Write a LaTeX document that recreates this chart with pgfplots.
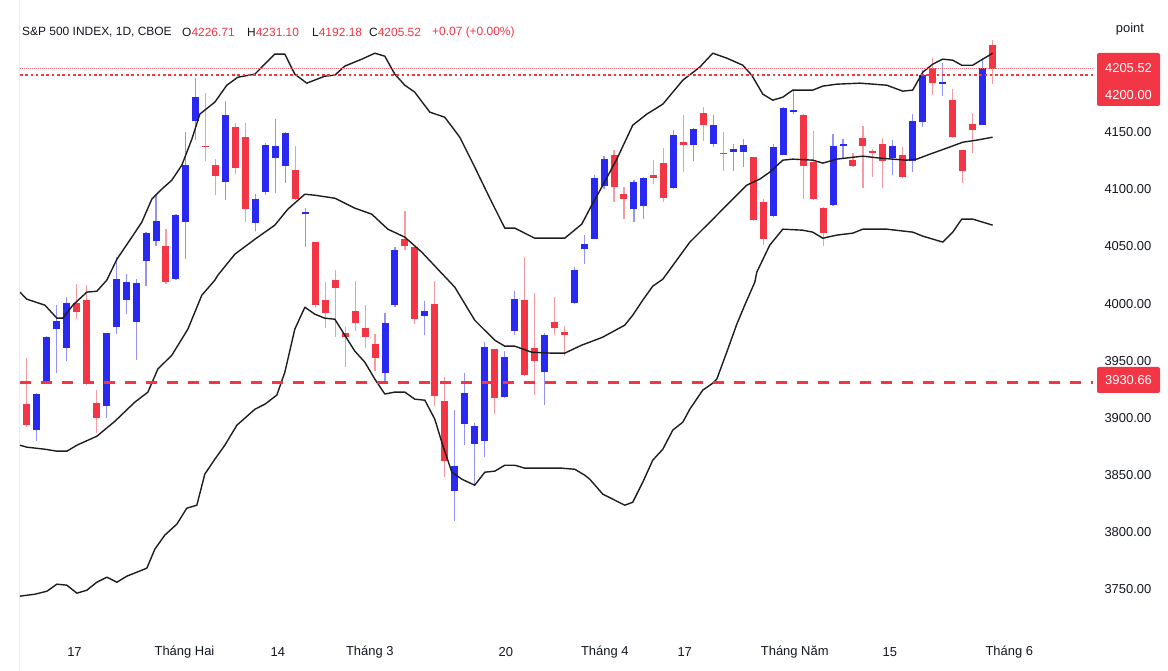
\documentclass[border=0pt]{standalone}
\usepackage{fontspec}
\setmainfont{Liberation Sans}
\usepackage{pgfplots}
\usepackage{pgfplotstable}
\pgfplotsset{compat=1.18}
\definecolor{tvred}{HTML}{F23645}
\definecolor{tvblue}{HTML}{2929F0}
\definecolor{tvtext}{HTML}{131722}
\definecolor{bandc}{HTML}{1E1E1E}

\pgfplotstableread{
i o h l c
1 3889.2 3921.6 3879.5 3920.7
2 3932.1 3971.4 3931.2 3970.8
3 3977.8 3998.8 3939.3 3984.8
4 3961.2 4005.6 3949.8 4000.6
8 3910.2 3974.5 3899.7 3974.1
9 3979.3 4040.6 3973.5 4021.3
10 4003.0 4025.7 3991.0 4018.7
11 3983.7 4021.3 3950.7 4017.8
12 4037.4 4062.3 4015.2 4061.9
13 4054.9 4095.7 4050.8 4072.4
15 4021.3 4078.5 4020.9 4077.6
16 4071.0 4150.3 4039.1 4120.9
17 4159.4 4197.3 4143.3 4181.2
20 4106.2 4177.7 4090.2 4165.1
23 4070.1 4096.3 4063.1 4091.6
24 4097.5 4140.4 4095.1 4138.6
25 4127.2 4161.6 4096.6 4137.7
26 4120.2 4149.8 4105.6 4149.4
28 4078.0 4083.5 4049.3 4080.2
36 3939.1 3991.8 3929.7 3983.1
37 3998.3 4049.1 3996.8 4046.7
40 3988.7 4002.1 3972.1 3993.9
43 3835.8 3906.4 3810.1 3857.4
44 3895.0 3939.1 3875.8 3921.8
45 3877.2 3895.6 3840.8 3892.7
46 3879.8 3966.2 3865.5 3961.8
48 3918.1 3958.6 3917.7 3953.1
49 3976.4 4010.8 3972.6 4004.1
52 3939.9 3974.1 3910.8 3972.6
55 4000.3 4031.8 4000.0 4029.0
56 4047.9 4059.6 4034.2 4051.7
57 4056.6 4112.1 4056.2 4110.3
58 4102.7 4129.0 4100.4 4126.1
61 4082.6 4108.0 4071.8 4106.8
62 4085.8 4110.7 4074.1 4110.3
65 4101.0 4151.8 4100.6 4147.6
67 4138.4 4153.3 4124.6 4152.9
69 4139.8 4164.6 4136.6 4156.4
71 4132.8 4139.8 4115.9 4135.1
72 4132.8 4144.1 4119.6 4138.6
75 4076.5 4139.8 4076.1 4136.9
76 4130.1 4171.7 4129.6 4171.3
77 4167.5 4187.4 4166.0 4169.5
81 4086.1 4148.2 4085.7 4137.7
82 4138.0 4143.9 4126.6 4139.5
87 4127.0 4143.3 4112.1 4137.7
89 4124.4 4166.0 4115.3 4159.9
90 4158.8 4204.0 4154.6 4199.6
92 4192.3 4210.1 4181.5 4194.0
96 4156.7 4215.0 4156.3 4206.3
}\up

\pgfplotstableread{
i o h l c
0 3912.2 3952.2 3891.8 3893.5
5 4000.6 4017.0 3986.3 3992.5
6 4003.2 4016.1 3928.9 3929.4
7 3913.1 3924.4 3886.8 3899.7
14 4050.2 4065.4 4017.2 4018.7
18 4137.9 4183.9 4124.9 4137.0
19 4120.9 4126.1 4094.6 4111.5
21 4154.4 4158.1 4113.5 4118.5
22 4145.6 4158.1 4071.8 4082.6
27 4116.7 4137.7 4091.0 4091.4
29 4053.7 4054.1 3996.2 3998.3
30 4003.2 4018.7 3978.7 3991.8
31 4020.2 4029.8 3970.6 4013.2
32 3974.3 3979.3 3944.3 3970.8
33 3993.9 4019.3 3975.6 3983.1
34 3978.7 3998.8 3960.9 3970.6
35 3964.4 3973.5 3940.8 3952.2
38 4056.6 4080.6 4046.5 4050.0
39 4049.3 4049.7 3981.7 3986.9
41 3999.7 4019.3 3910.2 3919.2
42 3914.3 3935.6 3848.0 3862.3
47 3960.1 3960.5 3902.9 3917.2
50 4003.2 4040.6 3936.9 3937.3
51 3960.9 4009.1 3920.1 3949.8
53 3984.0 4005.3 3972.1 3978.2
54 3974.9 3980.2 3953.9 3972.1
59 4129.9 4134.0 4088.7 4101.9
60 4096.3 4101.6 4074.1 4091.4
63 4112.4 4125.5 4104.5 4109.7
64 4122.9 4136.0 4088.7 4092.8
66 4141.5 4164.6 4115.0 4138.4
68 4166.4 4171.9 4142.7 4155.9
70 4131.8 4150.0 4115.9 4130.9
73 4128.1 4128.5 4072.6 4073.0
74 4089.3 4091.1 4051.4 4056.6
78 4165.1 4165.5 4091.6 4120.5
79 4124.0 4150.6 4090.8 4091.4
80 4083.7 4084.1 4050.0 4061.9
83 4125.5 4131.9 4119.6 4120.5
84 4144.8 4155.3 4101.0 4138.0
85 4133.6 4135.4 4110.6 4132.2
86 4139.5 4144.8 4101.0 4124.9
88 4129.9 4136.9 4110.2 4110.6
91 4206.3 4215.0 4182.1 4193.2
93 4178.3 4187.4 4144.5 4146.2
94 4134.2 4134.6 4105.6 4116.1
95 4157.3 4167.2 4131.9 4152.0
97 4226.71 4231.10 4192.18 4205.52
}\down

\begin{document}
\begin{tikzpicture}[x=1bp,y=1bp]
\path[use as bounding box] (0,0) rectangle (1168,671);
\fill[white] (0,0) rectangle (1168,671);
\draw[black!8, line width=1bp] (19,0) -- (19,671);
\begin{axis}[
  at={(20,41)}, anchor=south west, scale only axis,
  width=1073bp, height=614bp,
  xmin=-0.67, xmax=107.1, ymin=3719.4, ymax=4256.8,
  axis line style={draw=none}, tick style={draw=none},
  ytick={3750,3800,3850,3900,3950,4000,4050,4100,4150},
  yticklabels={3750.00,3800.00,3850.00,3900.00,3950.00,4000.00,4050.00,4100.00,4150.00},
  yticklabel pos=right,
  xtick={4.81,15.86,25.23,34.47,48.13,58.07,66.1,77.15,86.7,98.7},
  xticklabels={17,Tháng Hai,14,Tháng 3,20,Tháng 4,17,Tháng Năm,15,Tháng 6},
  tick label style={font=\fontsize{13}{15}\selectfont, text=tvtext},
  yticklabel style={anchor=center, xshift=35bp},
  xticklabel style={anchor=center, yshift=-28bp},
]
% wicks
\addplot[draw=none, mark=none, forget plot, error bars/.cd, y dir=plus, y explicit, error mark=none,
  error bar style={line width=1.2bp, draw=tvblue!50}]
  table[x=i, y=l, y error expr=\thisrow{h}-\thisrow{l}] {\up};
\addplot[draw=none, mark=none, forget plot, error bars/.cd, y dir=plus, y explicit, error mark=none,
  error bar style={line width=1.2bp, draw=tvred!50}]
  table[x=i, y=l, y error expr=\thisrow{h}-\thisrow{l}] {\down};
% bodies
\addplot[draw=none, mark=none, forget plot, error bars/.cd, y dir=plus, y explicit, error mark=none,
  error bar style={line width=7bp, draw=tvblue}]
  table[x=i, y=o, y error expr=\thisrow{c}-\thisrow{o}] {\up};
\addplot[draw=none, mark=none, forget plot, error bars/.cd, y dir=plus, y explicit, error mark=none,
  error bar style={line width=7bp, draw=tvred}]
  table[x=i, y=c, y error expr=\thisrow{o}-\thisrow{c}] {\down};
% Bollinger upper
\addplot[bandc, line width=1.4bp, line join=round, mark=none] coordinates {
(-0.67,4010.0) (0.03,4003.8) (1.84,3998.6) (3.04,3987.2) (3.64,3987.2) (4.65,3998.6)
(6.05,4010.0) (7.06,4010.8) (8.06,4020.5) (9.07,4038.8) (10.57,4058.1) (11.57,4071.2)
(12.58,4091.4) (13.58,4100.1) (14.59,4108.0) (15.59,4121.1) (16.60,4143.9) (17.40,4165.8)
(18.91,4176.3) (20.11,4191.1) (21.22,4198.1) (22.93,4200.8) (24.93,4218.3) (25.94,4218.3)
(26.94,4200.8) (28.14,4192.9) (29.95,4199.0) (30.96,4199.9) (31.96,4207.8) (33.67,4213.9)
(34.98,4219.1) (35.98,4216.5) (36.98,4200.8) (37.99,4191.1) (38.99,4185.0) (40.50,4167.5)
(42.00,4163.1) (43.51,4145.6) (45.01,4119.4) (46.72,4088.7) (48.03,4066.0) (49.03,4066.0)
(51.04,4057.2) (54.05,4057.2) (55.76,4069.5) (56.76,4086.1) (57.77,4101.9) (59.28,4126.4)
(60.88,4156.1) (62.29,4165.8) (63.90,4174.5) (65.91,4195.5) (67.61,4206.9) (68.92,4219.1)
(70.32,4214.8) (71.93,4208.6) (72.83,4199.9) (73.94,4183.3) (74.94,4178.0) (75.95,4180.6)
(76.95,4186.8) (78.96,4186.8) (79.97,4190.3) (81.37,4192.0) (83.68,4192.9) (86.39,4191.1)
(88.00,4185.9) (89.00,4186.8) (90.01,4202.5) (91.01,4209.5) (92.01,4213.9) (93.02,4213.0)
(93.92,4208.6) (95.03,4208.6) (96.03,4213.9) (97.03,4219.1)};
% Bollinger middle
\addplot[bandc, line width=1.4bp, line join=round, mark=none] coordinates {
(-0.67,3876.0) (0.03,3874.3) (1.84,3872.5) (3.04,3870.8) (4.05,3870.8) (5.05,3876.0)
(7.06,3883.9) (8.87,3897.0) (10.87,3913.7) (12.18,3922.4) (13.18,3942.6) (14.59,3954.8)
(16.20,3977.6) (17.60,4007.3) (18.91,4020.5) (19.21,4024.8) (20.92,4043.2) (22.93,4056.3)
(24.93,4068.6) (26.24,4082.6) (27.95,4095.7) (28.95,4094.8) (30.96,4092.2) (32.97,4083.5)
(34.67,4078.2) (36.28,4065.1) (37.99,4058.1) (39.69,4045.0) (41.30,4030.1) (43.01,4014.3)
(45.01,3985.4) (47.02,3967.9) (48.03,3962.7) (49.03,3962.7) (50.74,3957.4) (52.75,3956.6)
(54.05,3956.6) (55.76,3963.6) (57.07,3967.9) (57.87,3970.6) (60.08,3981.1) (60.88,3989.8)
(61.89,4003.0) (62.89,4015.2) (63.90,4021.3) (66.61,4053.7) (68.92,4073.8) (70.93,4091.4)
(72.33,4103.6) (73.64,4108.9) (74.64,4115.0) (75.95,4125.5) (76.95,4126.4) (78.96,4125.5)
(79.97,4122.9) (81.37,4126.4) (83.98,4129.0) (85.69,4127.3) (86.99,4126.4) (88.40,4125.5)
(89.40,4126.4) (90.71,4130.7) (92.41,4136.0) (94.02,4141.2) (95.42,4143.0) (97.03,4145.6)};
% Bollinger lower
\addplot[bandc, line width=1.4bp, line join=round, mark=none] coordinates {
(-0.67,3743.9) (0.83,3745.6) (2.04,3748.2) (3.04,3754.4) (4.05,3753.5) (5.05,3746.5)
(6.05,3749.1) (7.06,3756.1) (8.06,3760.5) (9.07,3756.1) (10.07,3761.4) (12.08,3768.4)
(12.88,3785.0) (13.88,3797.3) (15.09,3806.9) (16.09,3820.9) (17.10,3823.5) (17.90,3850.7)
(18.91,3863.8) (19.91,3876.0) (21.12,3893.5) (22.93,3907.5) (23.93,3911.9) (25.13,3919.8)
(25.94,3939.9) (26.94,3977.6) (27.95,3996.8) (28.95,3990.7) (29.95,3987.2) (30.96,3986.3)
(31.96,3972.3) (32.97,3958.3) (33.97,3948.7) (34.98,3933.8) (35.98,3920.8) (36.98,3922.5)
(37.99,3922.5) (38.99,3916.3) (40.00,3915.4) (41.00,3898.8) (41.70,3878.7) (42.71,3852.4)
(43.71,3846.3) (45.01,3841.0) (46.02,3852.4) (47.02,3853.3) (48.03,3858.5) (49.03,3858.5)
(50.04,3855.9) (53.75,3855.9) (55.05,3855.0) (56.06,3849.8) (56.56,3846.3) (57.87,3833.2)
(60.08,3823.5) (60.88,3826.1) (61.89,3843.7) (62.89,3862.9) (63.90,3872.5) (64.90,3889.2)
(65.91,3896.2) (66.61,3907.5) (67.91,3924.2) (68.92,3930.3) (69.32,3933.8) (70.32,3957.4)
(71.33,3981.9) (72.13,3998.6) (73.14,4018.7) (73.34,4027.5) (74.64,4051.1) (75.95,4065.1)
(77.95,4064.2) (78.96,4062.5) (79.97,4057.2) (81.37,4059.9) (82.98,4061.6) (83.98,4065.1)
(86.39,4065.1) (89.00,4062.5) (90.01,4059.0) (92.01,4053.8) (93.02,4062.5) (93.92,4073.9)
(95.03,4073.9) (97.03,4068.6)};
% horizontal lines
\addplot[tvred, line width=2.6bp, dash pattern=on 11bp off 10bp, mark=none] coordinates {(-0.67,3930.66) (107.1,3930.66)};
\addplot[tvred, line width=2.4bp, dash pattern=on 2.6bp off 2.7bp, mark=none] coordinates {(-0.67,4200) (107.1,4200)};
\addplot[tvred!70, line width=0.8bp, dash pattern=on 1bp off 1bp, mark=none] coordinates {(-0.67,4205.52) (107.1,4205.52)};
\end{axis}
% price labels
\fill[tvred, rounded corners=2bp] (1097,565) rectangle (1160,618);
\node[text=white, font=\fontsize{13}{15}\selectfont] at (1128.5,603) {4205.52};
\node[text=white, font=\fontsize{13}{15}\selectfont] at (1128.5,576) {4200.00};
\fill[tvred, rounded corners=2bp] (1097,278) rectangle (1160,304);
\node[text=white, font=\fontsize{13}{15}\selectfont] at (1128.5,291) {3930.66};
\node[text=tvtext, font=\fontsize{13}{15}\selectfont] at (1130,642) {point};
% title
\begin{scope}[every node/.style={anchor=west, inner sep=0pt, font=\fontsize{12}{14}\selectfont, text=tvtext}]
\node at (22,639) {S\&P 500 INDEX, 1D, CBOE};
\node at (182,639) {O\textcolor{tvred}{4226.71}};
\node at (247,639) {H\textcolor{tvred}{4231.10}};
\node at (312,639) {L\textcolor{tvred}{4192.18}};
\node at (369,639) {C\textcolor{tvred}{4205.52}};
\node[text=tvred] at (432,639) {+0.07 (+0.00\%)};
\end{scope}
\end{tikzpicture}
\end{document}
